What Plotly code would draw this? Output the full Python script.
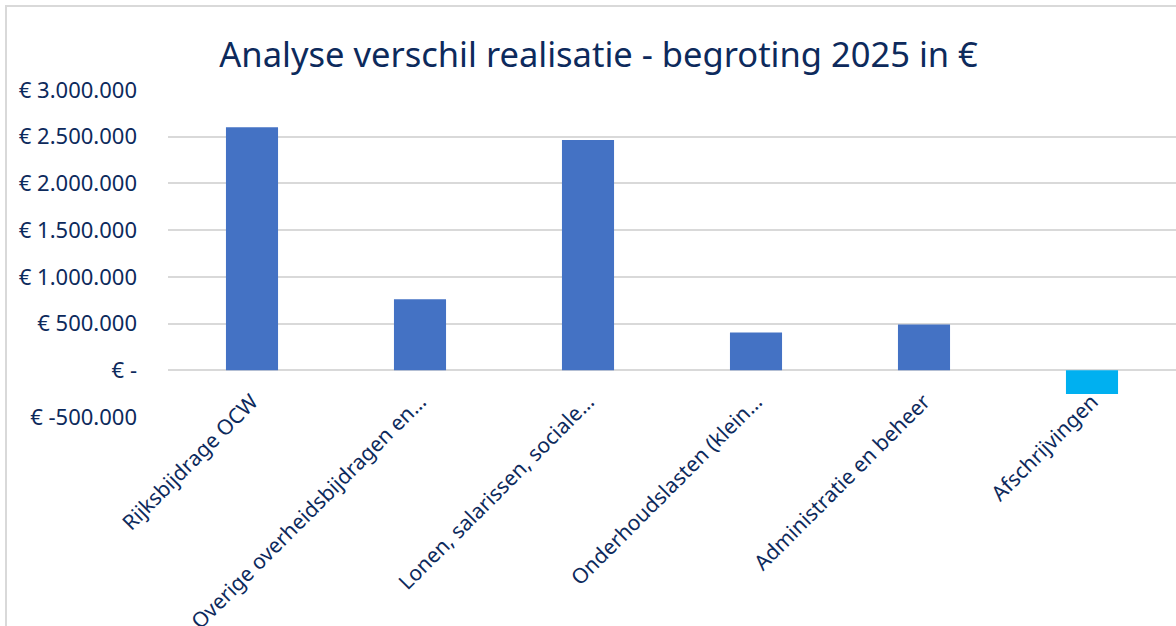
import plotly.graph_objects as go

categories = ["Rijksbijdrage OCW", "Overige overheidsbijdragen en…", "Lonen, salarissen, sociale…",
              "Onderhoudslasten (klein…", "Administratie en beheer", "Afschrijvingen"]
values = [2600000, 760000, 2465000, 405000, 490000, -255000]
bar_colors = ["#4472C4", "#4472C4", "#4472C4", "#4472C4", "#4472C4", "#00B0F0"]
tick_vals = [-500000, 0, 500000, 1000000, 1500000, 2000000, 2500000, 3000000]
tick_text = ["€ -500.000", "€ -", "€ 500.000", "€ 1.000.000", "€ 1.500.000", "€ 2.000.000", "€ 2.500.000", "€ 3.000.000"]

navy = "#0D2A5C"
fig = go.Figure(go.Bar(x=categories, y=values, marker=dict(color=bar_colors, line=dict(width=0)),
                       width=0.31))
fig.update_layout(
    width=1176, height=626,
    margin=dict(l=168, r=0, t=90, b=209),
    paper_bgcolor="white", plot_bgcolor="white",
    font=dict(family="Noto Sans", color=navy, size=20),
    title=dict(text="Analyse verschil realisatie - begroting 2025 in €", x=0.509, xanchor="center",
               y=0.913, yanchor="middle", font=dict(size=34.5, color=navy)),
    showlegend=False,
    xaxis=dict(tickangle=-45, tickfont=dict(size=21, color=navy), showgrid=False, showline=False,
               ticks="", ticklen=0, automargin=False, anchor="free", position=500000 / 3500000,
               ticklabelstandoff=14),
    yaxis=dict(range=[-500000, 3000000], tickvals=tick_vals, ticktext=tick_text,
               tickfont=dict(size=22, color=navy), gridcolor="#D9D9D9", gridwidth=2,
               zeroline=False, showline=False, ticks="", ticklabelstandoff=30, automargin=False),
)
fig.add_shape(type="rect", xref="paper", yref="paper", x0=-162/1008, x1=1.2, y0=-1.0, y1=1 + 84/327,
              line=dict(color="#D9D9D9", width=2), fillcolor="rgba(0,0,0,0)", layer="below")
fig.write_html("out.html", config={"displayModeBar": False},
               post_script="document.body.style.margin='0';document.body.style.overflow='hidden';")
